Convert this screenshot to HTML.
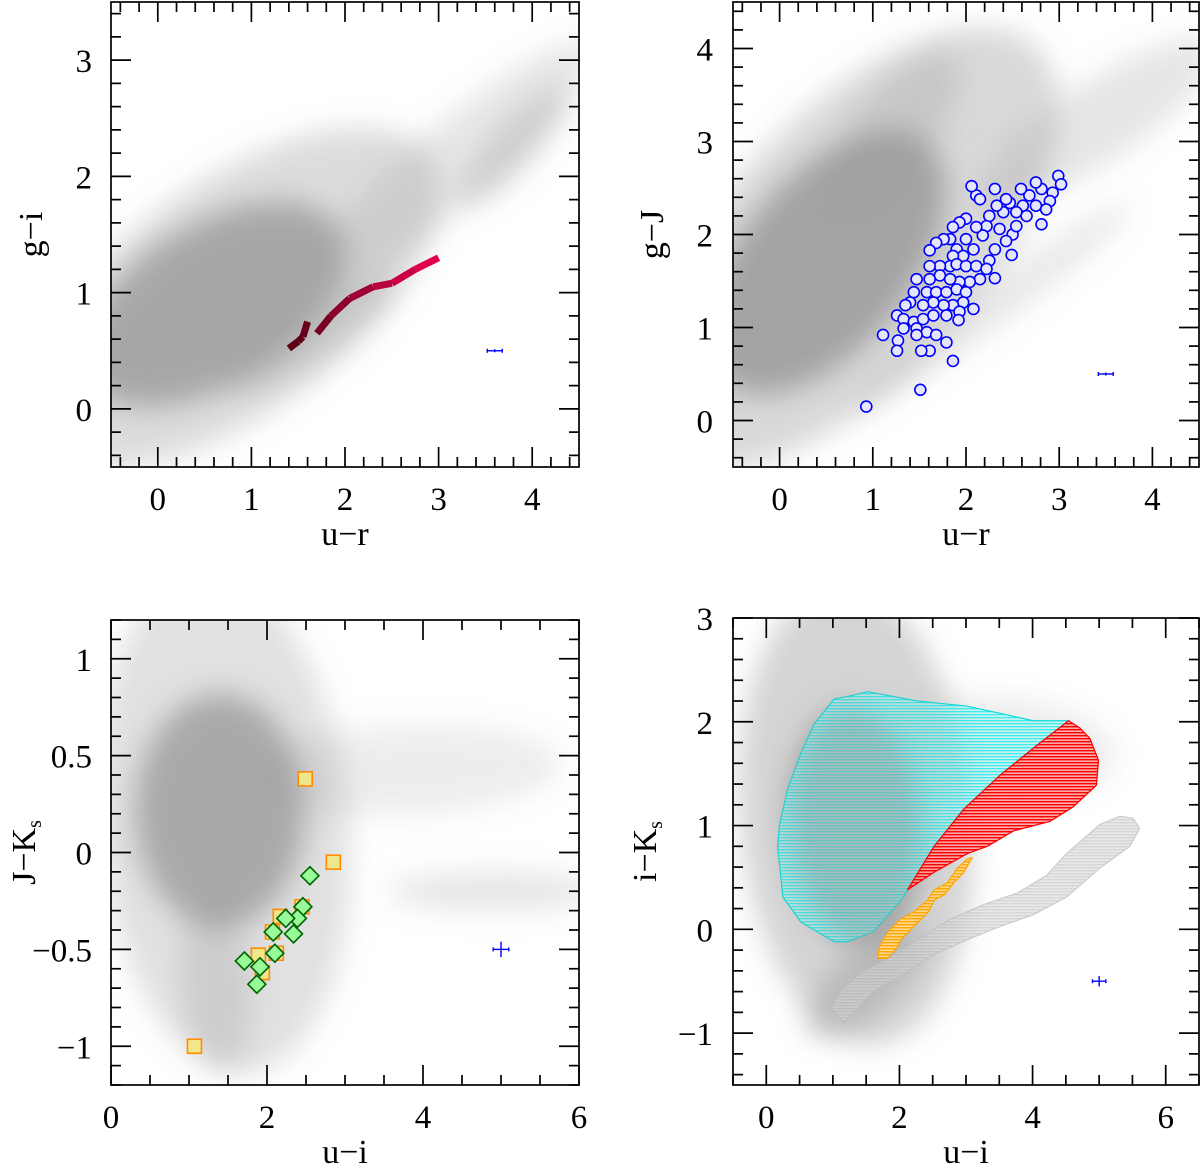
<!DOCTYPE html>
<html><head><meta charset="utf-8"><style>
html,body{margin:0;padding:0;background:#fff;}
svg{display:block;}
text{font-family:"Liberation Serif",serif;fill:#000;}
</style></head><body>
<svg id="fig" width="1200" height="1166" viewBox="0 0 1200 1166" xmlns="http://www.w3.org/2000/svg">
<defs>
<filter id="blur" x="-50%" y="-50%" width="200%" height="200%"><feGaussianBlur stdDeviation="14"/></filter>
<pattern id="hatchCyan" width="4" height="3" patternUnits="userSpaceOnUse"><rect width="4" height="3" fill="#b8fafa" fill-opacity="0.6"/><rect width="4" height="1.3" fill="#00f0f0" fill-opacity="0.75"/></pattern>
<pattern id="hatchRed" width="4" height="3" patternUnits="userSpaceOnUse"><rect width="4" height="3" fill="#ff9a9a" fill-opacity="0.8"/><rect width="4" height="1.4" fill="#f00" /></pattern>
<pattern id="hatchOrange" width="4" height="3" patternUnits="userSpaceOnUse"><rect width="4" height="3" fill="#ffd890"/><rect width="4" height="1.4" fill="#ffa500"/></pattern>
<pattern id="hatchGray" width="4" height="3" patternUnits="userSpaceOnUse"><rect width="4" height="3" fill="#e4e4e4"/><rect width="4" height="1.4" fill="#cfcfcf"/></pattern>
</defs>
</svg>
<script>
// ---------- data ----------
// Panel A: u-r vs g-i
const aXTicks=[0,1,2,3,4];
const aYTicks=[0,1,2,3];
const aCloudStart=[[0.0,0.6],[-0.3,0.3],[2.0,1.3],[3.4,1.9],[1.0,0.3]];
const aCloudEnd=[[1.2,1.2],[1.9,1.6],[4.3,2.9],[4.2,2.6],[2.3,1.0]];
const aCloudOpacity=[0.8,0.35,0.25,0.35,0.3];
const aTrackDark=[[1.4,0.52],[1.5,0.58],[1.55,0.62],[1.57,0.67],[1.6,0.75]];
const aTrackMain=[[1.7,0.65],[1.85,0.8],[2.05,0.95],[2.3,1.05],[2.5,1.08],[2.75,1.2],[3.0,1.3]];
const aErr=[3.6,0.5,0.08,0.01];
// Panel B: u-r vs g-J
const bXTicks=[0,1,2,3,4];
const bYTicks=[0,1,2,3,4];
const bCloudStart=[[0.0,1.1],[-0.3,0.7],[2.5,2.6],[0.9,0.2],[0.8,2.6]];
const bCloudEnd=[[1.0,2.3],[1.8,3.0],[4.3,3.8],[3.6,2.2],[1.6,3.6]];
const bCloudOpacity=[0.85,0.38,0.25,0.22,0.3];
const bCircX=[2.99,3.02,2.93,2.90,2.81,2.75,2.68,2.59,2.61,2.54,2.47,2.43,2.40,2.33,2.25,2.31,2.11,2.06,2.15,2.22,2.18,2.11,2.00,1.93,1.86,1.83,1.76,1.68,1.61,1.90,2.00,2.08,1.97,1.86,1.83,1.72,1.61,1.90,2.00,2.11,2.15,2.04,1.93,1.83,1.72,1.61,1.47,1.44,1.58,1.68,1.79,1.90,2.00,2.08,1.97,1.86,1.76,1.65,1.54,1.40,1.35,1.26,1.33,1.44,1.54,1.65,1.79,1.93,1.33,1.47,1.58,1.68,1.11,1.27,1.47,1.61,1.52,1.26,1.79,1.92,1.86,1.51,0.93,2.81,2.50,2.49,2.31,2.25,2.22,2.43,2.54,2.65,2.75,2.86,2.31,2.36];
const bCircY=[2.63,2.54,2.45,2.36,2.49,2.56,2.42,2.49,2.31,2.24,2.34,2.38,2.24,2.31,2.20,2.49,2.42,2.52,2.38,2.09,1.99,2.08,2.17,2.13,2.08,1.95,1.95,1.91,1.83,1.84,1.95,1.84,1.77,1.77,1.66,1.66,1.66,1.68,1.66,1.66,1.52,1.49,1.49,1.52,1.56,1.52,1.52,1.38,1.38,1.38,1.38,1.41,1.38,1.20,1.27,1.24,1.24,1.27,1.24,1.27,1.24,1.13,1.09,1.06,1.09,1.13,1.13,1.17,0.99,0.99,0.95,0.92,0.92,0.86,0.92,0.75,0.75,0.75,0.84,1.08,0.64,0.33,0.15,2.11,2.00,1.78,1.53,1.72,1.63,1.93,2.09,2.20,2.31,2.27,1.84,2.06];
const bErr=[3.5,0.5,0.08,0.01];
// Panel C: u-i vs J-Ks
const cXTicks=[0,2,4,6];
const cYTicks=[-1,-0.5,0,0.5,1];
const cYTickLabels=["\u22121","\u22120.5","0","0.5","1"];
const cCloudStart=[[1.4,0.38],[1.3,0.8],[2.4,0.4],[3.8,-0.2],[1.3,-0.4]];
const cCloudEnd=[[1.4,0.05],[1.6,-0.5],[5.2,0.45],[6.0,-0.2],[1.4,-0.95]];
const cCloudOpacity=[0.8,0.3,0.18,0.25,0.28];
const cSquareX=[2.49,2.85,2.45,2.17,2.07,2.12,1.89,1.94,1.07];
const cSquareY=[0.38,-0.05,-0.28,-0.33,-0.41,-0.52,-0.53,-0.62,-1.0];
const cDiamondX=[2.55,2.46,2.39,2.24,2.08,2.34,2.10,1.71,1.91,1.87];
const cDiamondY=[-0.12,-0.28,-0.34,-0.34,-0.41,-0.42,-0.52,-0.56,-0.59,-0.68];
const cErr=[5.0,-0.5,0.1,0.04];
// Panel D: u-i vs i-Ks
const dXTicks=[0,2,4,6];
const dYTicks=[-1,0,1,2,3];
const dYTickLabels=["\u22121","0","1","2","3"];
const dCloudStart=[[1.3,1.5],[1.2,2.2],[2.5,1.8],[1.0,-0.8]];
const dCloudEnd=[[1.4,0.5],[1.5,0.0],[4.5,1.7],[2.0,-0.2]];
const dCloudOpacity=[0.75,0.3,0.12,0.35];
const dCyan=[[0.17,0.80],[0.25,0.31],[0.52,0.07],[1.02,-0.12],[1.22,-0.12],[1.62,-0.02],[2.02,0.28],[2.12,0.38],[2.52,0.80],[2.97,1.16],[3.52,1.49],[4.06,1.77],[4.54,2.01],[4.01,2.01],[3.52,2.08],[3.02,2.15],[2.27,2.20],[1.52,2.29],[1.27,2.25],[1.02,2.22],[0.72,1.98],[0.52,1.70],[0.32,1.35],[0.20,1.01]];
const dRed=[[2.12,0.38],[2.52,0.55],[3.02,0.73],[3.32,0.80],[3.72,0.95],[4.26,1.04],[4.61,1.18],[4.96,1.39],[4.99,1.63],[4.86,1.84],[4.71,1.94],[4.54,2.01],[4.06,1.77],[3.52,1.49],[2.97,1.16],[2.52,0.80]];
const dOrange=[[1.67,-0.28],[1.82,-0.28],[1.97,-0.17],[2.02,-0.10],[2.22,0.03],[2.44,0.17],[2.52,0.28],[2.67,0.33],[2.82,0.45],[2.97,0.55],[3.09,0.69],[3.02,0.68],[2.87,0.59],[2.72,0.45],[2.52,0.38],[2.42,0.28],[2.22,0.17],[2.02,0.10],[1.82,-0.03],[1.70,-0.17]];
const dStripe=[[0.97,-0.76],[1.17,-0.90],[1.62,-0.59],[2.02,-0.45],[2.52,-0.24],[3.02,-0.10],[3.52,0.03],[4.01,0.14],[4.51,0.31],[5.01,0.59],[5.46,0.80],[5.61,0.97],[5.51,1.07],[5.31,1.09],[5.01,1.01],[4.51,0.73],[4.21,0.52],[3.77,0.35],[3.27,0.24],[2.77,0.10],[2.27,-0.10],[1.82,-0.28],[1.42,-0.42],[1.12,-0.59]];
const dErr=[5.0,-0.5,0.1,0.05];

// ---------- drawing ----------
const NS='http://www.w3.org/2000/svg';
const svg=document.getElementById('fig');
function mk(tag,attrs,parent){const e=document.createElementNS(NS,tag);for(const k in attrs)e.setAttribute(k,attrs[k]);(parent||svg).appendChild(e);return e;}

function makePanel(id,L,R,T,B,x0,x1,y0,y1){
  const sx=v=>L+(v-x0)/(x1-x0)*(R-L);
  const sy=v=>B-(v-y0)/(y1-y0)*(B-T);
  const g=mk('g',{});
  
  
  const cp=mk('clipPath',{id:'clip-'+id},g);
  mk('rect',{x:L,y:T,width:R-L,height:B-T},cp);
  const inner=mk('g',{'clip-path':'url(#clip-'+id+')'},g);
  return {g,inner,sx,sy,L,R,T,B};
}
function clouds(p,starts,ends,ops,widths,groupOpacity){
  const cg=mk('g',{filter:'url(#blur)',opacity:groupOpacity||1},p.inner);
  
  
  for(let i=0;i<starts.length;i++){
    const xa=p.sx(starts[i][0]),ya=p.sy(starts[i][1]),xb=p.sx(ends[i][0]),yb=p.sy(ends[i][1]);
    const cx=(xa+xb)/2,cy=(ya+yb)/2,len=Math.hypot(xb-xa,yb-ya);
    const ang=Math.atan2(yb-ya,xb-xa)*180/Math.PI;
    const w=widths[i];
    const e=mk('ellipse',{cx:cx,cy:cy,rx:len/2+w/2,ry:w/2,transform:`rotate(${ang} ${cx} ${cy})`,fill:'#9a9a9a','fill-opacity':ops[i]},cg);
    
    
  }
}
function poly(p,pts,fill,stroke,name){
  const e=mk('polygon',{points:pts.map(q=>p.sx(q[0])+','+p.sy(q[1])).join(' '),fill:fill,stroke:stroke,'stroke-width':1.2},p.inner);
  
  
  return e;
}
function errbar(p,d){
  const g=mk('g',{stroke:'#0000ff','stroke-width':1.4},p.inner);
  
  
  const x=p.sx(d[0]),y=p.sy(d[1]);
  const hx=p.sx(d[0]+d[2])-x,hy=y-p.sy(d[1]+d[3]);
  mk('line',{x1:x-hx,y1:y,x2:x+hx,y2:y},g);
  mk('line',{x1:x,y1:y-Math.max(hy,1.5),x2:x,y2:y+Math.max(hy,1.5)},g);
  mk('line',{x1:x-hx,y1:y-2,x2:x-hx,y2:y+2},g);
  mk('line',{x1:x+hx,y1:y-2,x2:x+hx,y2:y+2},g);
}
function axes(p,x0,x1,xmaj,xmin,y0,y1,ymaj,ymin,xt,xtl,yt,ytl,xtitle,ytitleHTML,ytitleX,yLabX){
  const fg=mk('g',{stroke:'#000','stroke-width':1.7,fill:'none'},p.g);
  
  
  mk('rect',{x:p.L,y:p.T,width:p.R-p.L,height:p.B-p.T},fg);
  const eps=1e-6;
  for(let v=Math.ceil(x0/xmin-eps)*xmin;v<=x1+eps;v+=xmin){
    const isMaj=Math.abs(v/xmaj-Math.round(v/xmaj))<1e-4;const len=isMaj?20:10;const X=p.sx(v);
    mk('line',{x1:X,y1:p.B,x2:X,y2:p.B-len},fg);mk('line',{x1:X,y1:p.T,x2:X,y2:p.T+len},fg);
  }
  for(let v=Math.ceil(y0/ymin-eps)*ymin;v<=y1+eps;v+=ymin){
    const isMaj=Math.abs(v/ymaj-Math.round(v/ymaj))<1e-4;const len=isMaj?20:10;const Y=p.sy(v);
    mk('line',{x1:p.L,y1:Y,x2:p.L+len,y2:Y},fg);mk('line',{x1:p.R,y1:Y,x2:p.R-len,y2:Y},fg);
  }
  xt.forEach((v,i)=>{
    const t=mk('text',{x:p.sx(v),y:p.B+43,'text-anchor':'middle','font-size':33},p.g);
    t.textContent=xtl[i];
    
    
  });
  yt.forEach((v,i)=>{
    const t=mk('text',{x:yLabX,y:p.sy(v)+12,'text-anchor':'end','font-size':33},p.g);
    t.textContent=ytl[i];
    
    
  });
  const xtT=mk('text',{x:(p.L+p.R)/2,y:p.B+78,'text-anchor':'middle','font-size':34},p.g);
  xtT.textContent=xtitle;
  
  
  const cy=(p.T+p.B)/2;
  const ytT=mk('text',{x:ytitleX,y:cy,'text-anchor':'middle','font-size':34,transform:`rotate(-90 ${ytitleX} ${cy})`},p.g);
  ytT.innerHTML=ytitleHTML;
  
  
}

// ----- Panel A -----
const pA=makePanel('panel-ur-gi',111,579,2,467,-0.5,4.5,-0.5,3.5);
clouds(pA,aCloudStart,aCloudEnd,aCloudOpacity,[160,230,80,45,55]);
function track(p,pts,c0,c1,name){
  const g=mk('g',{'stroke-width':7,'stroke-linecap':'butt',fill:'none'},p.inner);
  
  
  for(let i=0;i<pts.length-1;i++){
    const t=i/(pts.length-1);
    const col=`rgb(${Math.round(c0[0]+(c1[0]-c0[0])*t)},${Math.round(c0[1]+(c1[1]-c0[1])*t)},${Math.round(c0[2]+(c1[2]-c0[2])*t)})`;
    mk('line',{x1:p.sx(pts[i][0]),y1:p.sy(pts[i][1]),x2:p.sx(pts[i+1][0]),y2:p.sy(pts[i+1][1]),stroke:col},g);
  }
}
track(pA,aTrackDark,[90,0,20],[110,0,30],'model-track-dark');
track(pA,aTrackMain,[120,0,35],[245,0,85],'model-track');
errbar(pA,aErr);
axes(pA,-0.5,4.5,1,0.2,-0.5,3.5,1,0.2,aXTicks,aXTicks.map(String),aYTicks,aYTicks.map(String),'u\u2212r','g\u2212i',42,92);

// ----- Panel B -----
const pB=makePanel('panel-ur-gJ',733,1199,2,467,-0.5,4.5,-0.5,4.5);
clouds(pB,bCloudStart,bCloudEnd,bCloudOpacity,[170,260,80,40,80]);
const cg=mk('g',{},pB.inner);


bCircX.forEach((v,i)=>{
  const c=mk('circle',{cx:pB.sx(v),cy:pB.sy(bCircY[i]),r:5.5,fill:'#e6e6fa',stroke:'#0000ff','stroke-width':1.6},cg);
  
  
});
errbar(pB,bErr);
axes(pB,-0.5,4.5,1,0.2,-0.5,4.5,1,0.2,bXTicks,bXTicks.map(String),bYTicks,bYTicks.map(String),'u\u2212r','g\u2212J',663,713);

// ----- Panel C -----
const pC=makePanel('panel-ui-JKs',111,579,620,1085,0,6,-1.2,1.2);
clouds(pC,cCloudStart,cCloudEnd,cCloudOpacity,[170,250,90,40,70]);
cSquareX.forEach((v,i)=>{
  const x=pC.sx(v),y=pC.sy(cSquareY[i]);
  const s=mk('rect',{x:x-7,y:y-7,width:14,height:14,fill:'#f0e68c',stroke:'#ff8c00','stroke-width':1.6},pC.inner);
  
  
});
cDiamondX.forEach((v,i)=>{
  const x=pC.sx(v),y=pC.sy(cDiamondY[i]);
  const d=mk('polygon',{points:`${x},${y-9} ${x+9},${y} ${x},${y+9} ${x-9},${y}`,fill:'#98fb98',stroke:'#006400','stroke-width':1.6},pC.inner);
  
  
});
errbar(pC,cErr);
axes(pC,0,6,2,0.5,-1.2,1.2,0.5,0.1,cXTicks,cXTicks.map(String),cYTicks,cYTickLabels,'u\u2212i','J\u2212K<tspan font-size="20" dy="6">s</tspan>',35,92);

// ----- Panel D -----
const pD=makePanel('panel-ui-iKs',733,1199,618,1085,-0.5,6.5,-1.5,3.0);
const dWidths=[130,230,100,60];
clouds(pD,dCloudStart,dCloudEnd,dCloudOpacity,dWidths);
poly(pD,dStripe,'url(#hatchGray)','#cccccc','gray-region').setAttribute('fill-opacity','0.85');
poly(pD,dCyan,'url(#hatchCyan)','#00e0e0','cyan-region');
clouds(pD,dCloudStart,dCloudEnd,dCloudOpacity,dWidths,0.6);
poly(pD,dRed,'url(#hatchRed)','#ff0000','red-region');
poly(pD,dOrange,'url(#hatchOrange)','#ffa500','orange-region');
errbar(pD,dErr);
axes(pD,-0.5,6.5,2,0.5,-1.5,3.0,1,0.2,dXTicks,dXTicks.map(String),dYTicks,dYTickLabels,'u\u2212i','i\u2212K<tspan font-size="20" dy="6">s</tspan>',656,713);
</script>
</body></html>
